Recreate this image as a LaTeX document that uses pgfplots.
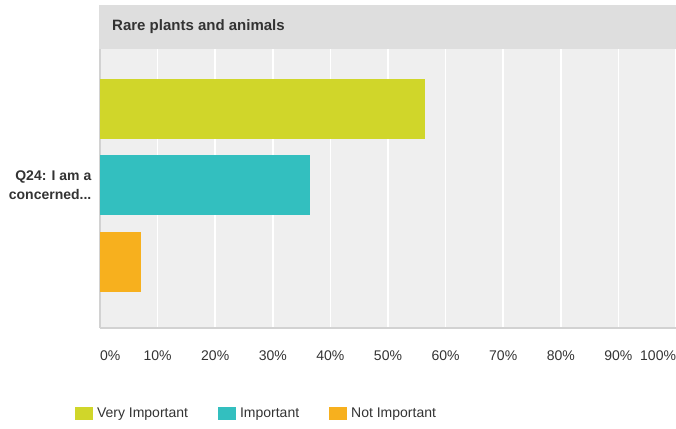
\documentclass[border=0pt]{standalone}
\usepackage{pgfplots}
\pgfplotsset{compat=1.18}
\usepackage{fontspec}
\setmainfont{Liberation Sans}
\definecolor{vimp}{HTML}{D0D62A}
\definecolor{imp}{HTML}{33BFBF}
\definecolor{nimp}{HTML}{F7B01E}
\definecolor{bg}{HTML}{EFEFEF}
\definecolor{band}{HTML}{DEDEDE}
\definecolor{txt}{HTML}{333333}
\definecolor{axl}{HTML}{D2D2D2}
\newcommand{\tdots}{...}
\begin{document}
\begin{tikzpicture}[x=1pt,y=1pt]
\useasboundingbox (0,0) rectangle (676,428);
\fill[band] (99,379) rectangle (676,422.5);
\node[anchor=west, inner sep=0pt, font=\fontsize{15}{18}\selectfont\bfseries, text=txt] at (112,401) {Rare plants and animals};
\begin{axis}[
  at={(100pt,100pt)}, anchor=south west,
  scale only axis, width=576pt, height=279pt,
  xmin=0, xmax=100, ymin=-1.863, ymax=1.784,
  axis background/.style={fill=bg},
  xbar, bar width=60pt,
  axis x line=bottom, axis y line=left,
  x axis line style={draw=axl, line width=2pt, -},
  y axis line style={draw=axl, line width=1.2pt, -},
  xtick={0,10,20,30,40,50,60,70,80,90,100},
  xticklabels={\makebox[0pt][l]{0\%},10\%,20\%,30\%,40\%,50\%,60\%,70\%,80\%,90\%,\makebox[0pt][r]{100\%}},
  xticklabel style={font=\fontsize{14}{16}\selectfont, text=txt, yshift=-17pt},
  ytick={0},
  yticklabels={{Q24: I am a\\concerned\tdots}},
  yticklabel style={font=\fontsize{14}{19}\selectfont\bfseries, text=txt, align=right, xshift=-3pt},
  xmajorgrids, major grid style={white, line width=1.5pt},
  tick style={draw=none},
  legend columns=3,
  legend style={at={(-0.0434,-0.3047)}, anchor=west, draw=none, fill=none,
    inner sep=0pt, outer sep=0pt,
    font=\fontsize{14}{16}\selectfont, text=txt,
    /tikz/every odd column/.append style={column sep=2pt},
    /tikz/every even column/.append style={column sep=28pt}},
  legend image code/.code={\fill[#1,draw=none] (0pt,-6.5pt) rectangle (18pt,6.5pt);},
]
\addplot[fill=vimp, draw=none, bar shift=0pt] coordinates {(56.4,1)};
\addplot[fill=imp, draw=none, bar shift=0pt] coordinates {(36.5,0)};
\addplot[fill=nimp, draw=none, bar shift=0pt] coordinates {(7.1,-1)};
\legend{Very Important, Important, Not Important}
\end{axis}
\end{tikzpicture}
\end{document}
